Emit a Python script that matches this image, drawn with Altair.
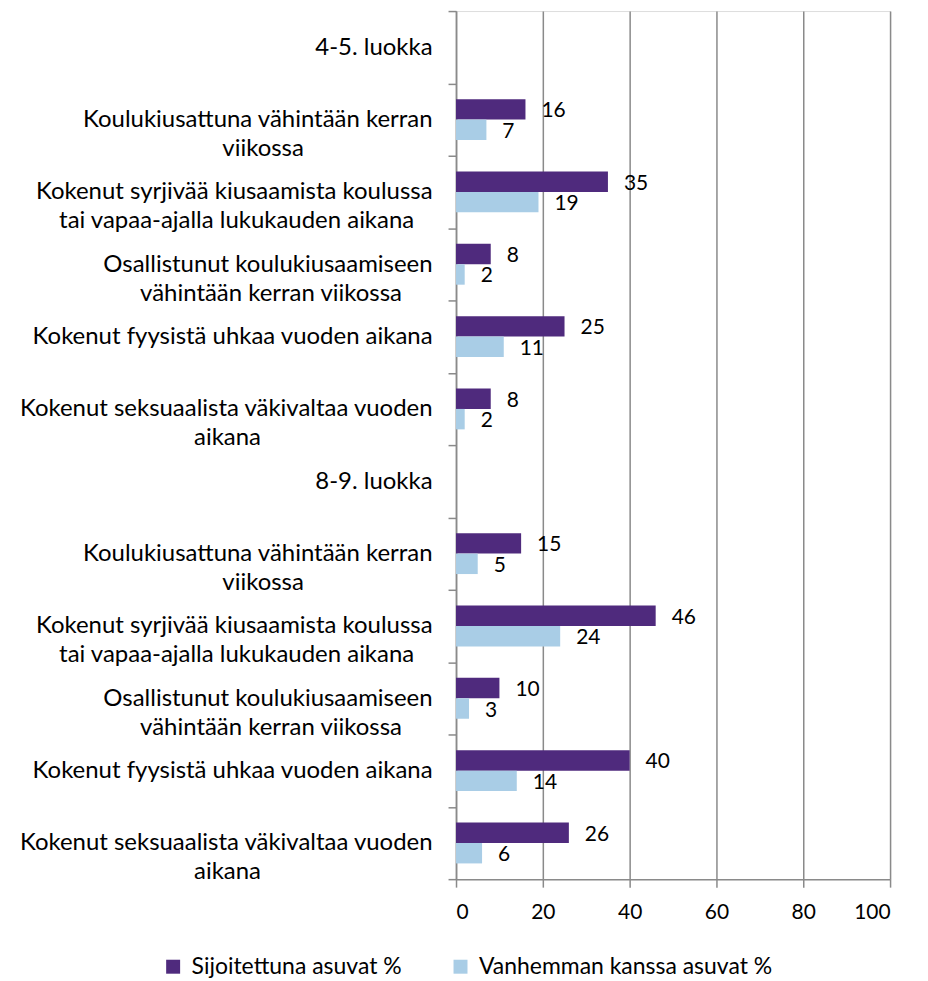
import altair as alt
import pandas as pd

categories = [
    "A0|4-5. luokka",
    "A1|Koulukiusattuna vähintään kerran|viikossa",
    "A2|Kokenut syrjivää kiusaamista koulussa|tai vapaa-ajalla lukukauden aikana",
    "A3|Osallistunut koulukiusaamiseen|vähintään kerran viikossa",
    "A4|Kokenut fyysistä uhkaa vuoden aikana",
    "A5|Kokenut seksuaalista väkivaltaa vuoden|aikana",
    "B0|8-9. luokka",
    "B1|Koulukiusattuna vähintään kerran|viikossa",
    "B2|Kokenut syrjivää kiusaamista koulussa|tai vapaa-ajalla lukukauden aikana",
    "B3|Osallistunut koulukiusaamiseen|vähintään kerran viikossa",
    "B4|Kokenut fyysistä uhkaa vuoden aikana",
    "B5|Kokenut seksuaalista väkivaltaa vuoden|aikana",
]
bar_categories = [categories[i] for i in (1, 2, 3, 4, 5, 7, 8, 9, 10, 11)]
series = ["Sijoitettuna asuvat %", "Vanhemman kanssa asuvat %"]
sijoitettuna = [16, 35, 8, 25, 8, 15, 46, 10, 40, 26]
vanhemman = [7, 19, 2, 11, 2, 5, 24, 3, 14, 6]
colors = ["#4F2A7D", "#A9CDE6"]

rows = []
for c, v1, v2 in zip(bar_categories, sijoitettuna, vanhemman):
    rows.append({"cat": c, "series": series[0], "value": v1})
    rows.append({"cat": c, "series": series[1], "value": v2})
df = pd.DataFrame(rows)

FONT = "Lato"
GRID = "#8A8A8A"

# multi-line labels: each line centred within its block, block right-aligned
# (shorter line gets trailing no-break spaces, closed by a zero-width char)
L = "split(datum.label, '|')"
M = f"max(length({L}[1]), length({L}[2]))"
NB = "\u00a0"
ZW = "\u200b"


def padded(i):
    n = f"length({L}[{i}])"
    return f"pad({L}[{i}], {n} + round(0.88 * ({M} - {n}) + 0.25), '{NB}') + '{ZW}'"


label_expr = f"length({L}) < 3 ? [{L}[1]] : [{padded(1)}, {padded(2)}]"

y_enc = alt.Y(
    "cat:N",
    sort=None,
    scale=alt.Scale(domain=categories, paddingInner=0, paddingOuter=0),
    axis=alt.Axis(
        title=None,
        labelExpr=label_expr,
        labelFont=FONT,
        labelFontSize=24,
        labelColor="#000000",
        labelLineHeight=29,
        labelPadding=16,
        labelAlign="right",
        labelLimit=0,
        tickBand="extent",
        ticks=True,
        tickSize=8,
        tickColor=GRID,
        tickWidth=1.5,
        domain=True,
        domainColor=GRID,
        domainWidth=1.5,
        grid=False,
    ),
)
x_enc = alt.X(
    "value:Q",
    scale=alt.Scale(domain=[0, 100], nice=False),
    axis=alt.Axis(
        title=None,
        values=[0, 20, 40, 60, 80, 100],
        labelFont=FONT,
        labelFontSize=21,
        labelColor="#000000",
        labelPadding=14,
        tickSize=8,
        tickColor=GRID,
        tickWidth=1.5,
        domainColor=GRID,
        domainWidth=1.5,
        grid=True,
        gridColor=GRID,
        gridWidth=1.5,
    ),
)
yoff = alt.YOffset(
    "series:N",
    sort=series,
    scale=alt.Scale(domain=series, paddingInner=0, paddingOuter=0.77),
)

bars = alt.Chart(df).mark_bar().encode(
    y=y_enc,
    x=x_enc,
    yOffset=yoff,
    color=alt.Color(
        "series:N",
        scale=alt.Scale(domain=series, range=colors),
        legend=alt.Legend(
            title=None,
            orient="none",
            direction="horizontal",
            legendX=-295,
            legendY=946,
            symbolType="square",
            symbolSize=196,
            symbolStrokeWidth=0,
            labelFont=FONT,
            labelFontSize=23,
            labelColor="#000000",
            labelOffset=7,
            columnPadding=47,
            labelLimit=0,
        ),
    ),
)

labels = alt.Chart(df).mark_text(
    align="left", baseline="middle", dx=16, dy=2, font=FONT, fontSize=21, color="#000000"
).encode(
    y=alt.Y("cat:N", sort=None, scale=alt.Scale(domain=categories)),
    x=alt.X("value:Q"),
    yOffset=alt.YOffset("series:N", sort=series),
    text=alt.Text("value:Q"),
)

chart = (
    alt.layer(bars, labels)
    .properties(
        width=435,
        height=870,
        autosize=alt.AutoSizeParams(type="none"),
        padding={"left": 449, "top": 2, "right": 30, "bottom": 100},
    )
    .configure_view(stroke=None)
    .configure(background="white")
)

chart.save("out.html", embed_options={"renderer": "svg", "actions": False})
